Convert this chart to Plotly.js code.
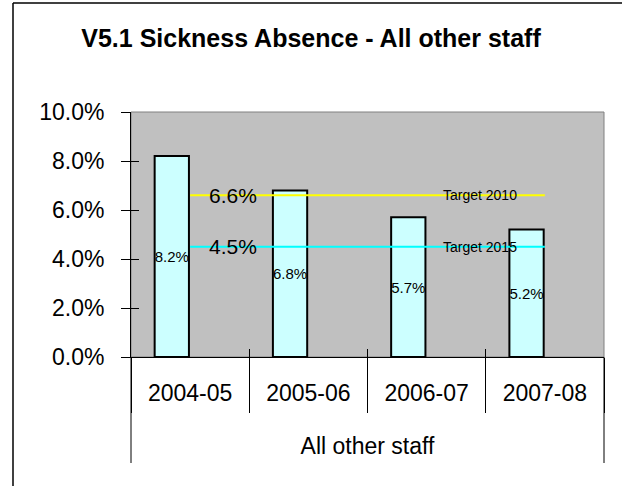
<!DOCTYPE html>
<html>
<head>
<meta charset="utf-8">
<script src="https://cdn.plot.ly/plotly-3.0.1.min.js"></script>
<style>html,body{margin:0;padding:0;background:#fff;}</style>
</head>
<body>
<div id="chart" style="width:622px;height:486px;"></div>
<script>
// ---- data ----
const categories = ["2004-05", "2005-06", "2006-07", "2007-08"];
const groupLabel = "All other staff";
const absenceRate = [8.2, 6.8, 5.7, 5.2];
const target2010 = [6.6, 6.6, 6.6, 6.6];
const target2015 = [4.5, 4.5, 4.5, 4.5];
const targetNames = ["Target 2010", "Target 2015"];
const yTicks = [0, 2, 4, 6, 8, 10];
const yTickLabels = ["0.0%", "2.0%", "4.0%", "6.0%", "8.0%", "10.0%"];
const chartTitle = "V5.1 Sickness Absence - All other staff";

const FONT = 'Arial, "Liberation Sans", sans-serif';

const traces = [
  {
    type: 'bar', x: categories, y: absenceRate, xaxis: 'x', yaxis: 'y',
    offset: -0.3, width: 0.29,
    marker: {color: '#CCFFFF', line: {color: '#000000', width: 2}},
    texttemplate: '%{y:.1f}%', textposition: 'inside', insidetextanchor: 'middle',
    textangle: 0, constraintext: 'none',
    textfont: {family: FONT, size: 15, color: '#000000'},
    hoverinfo: 'skip', showlegend: false
  },
  {
    type: 'scatter', mode: 'lines', x: categories, y: target2010, xaxis: 'x2', yaxis: 'y2',
    line: {color: '#FFFF00', width: 2}, hoverinfo: 'skip', showlegend: false
  },
  {
    type: 'scatter', mode: 'lines', x: categories, y: target2015, xaxis: 'x2', yaxis: 'y2',
    line: {color: '#00FFFF', width: 2}, hoverinfo: 'skip', showlegend: false
  }
];

const annotations = [];
[[target2010, targetNames[0]], [target2015, targetNames[1]]].forEach(([arr, name]) => {
  annotations.push({
    x: categories[0], y: arr[0], xref: 'x', yref: 'y',
    text: arr[0].toFixed(1) + '%', showarrow: false,
    xanchor: 'left', yanchor: 'middle', xshift: 17,
    font: {family: FONT, size: 21, color: '#000000'}
  });
  annotations.push({
    x: 2.45, y: arr[arr.length - 1], xref: 'x', yref: 'y',
    text: name, showarrow: false, xanchor: 'center', yanchor: 'middle',
    font: {family: FONT, size: 14, color: '#000000'}
  });
});

const layout = {
  width: 622, height: 486,
  margin: {l: 131, r: 18, t: 112, b: 129, pad: 0},
  paper_bgcolor: '#FFFFFF', plot_bgcolor: '#C0C0C0',
  showlegend: false,
  title: {
    text: chartTitle, x: 0.5, xref: 'container', xanchor: 'center',
    y: 1 - 38 / 486, yref: 'container', yanchor: 'middle',
    font: {family: FONT, size: 25, weight: 700, color: '#000000'}
  },
  xaxis: {
    type: 'category', range: [-0.5, 3.5], fixedrange: true,
    showline: true, linecolor: '#000000', linewidth: 1,
    ticks: 'inside', tickson: 'boundaries', ticklen: 8, tickcolor: '#000000', tickwidth: 1,
    showgrid: false, zeroline: false,
    tickfont: {family: FONT, size: 23, color: '#000000'},
    ticklabelstandoff: 15,
    title: {text: groupLabel, standoff: 33, font: {family: FONT, size: 23, color: '#000000'}}
  },
  xaxis2: {
    type: 'category', range: [-0.5, 3.5], overlaying: 'x', anchor: 'y', side: 'bottom',
    showline: false, ticks: 'outside', tickson: 'boundaries', ticklen: 55,
    tickcolor: '#000000', tickwidth: 1, showticklabels: false, showgrid: false, zeroline: false
  },
  yaxis: {
    range: [0, 10], tickmode: 'array', tickvals: yTicks, ticktext: yTickLabels,
    showline: true, linecolor: '#000000', linewidth: 1,
    ticks: 'outside', ticklen: 9, tickcolor: '#000000', tickwidth: 1,
    showgrid: false, zeroline: false,
    tickfont: {family: FONT, size: 23, color: '#000000'},
    ticklabelstandoff: 12
  },
  yaxis2: {
    range: [0, 10], overlaying: 'y', anchor: 'x', side: 'left',
    tickmode: 'array', tickvals: yTicks, ticks: 'inside', ticklen: 8, tickcolor: '#000000', tickwidth: 1,
    showticklabels: false, showline: false, showgrid: false, zeroline: false
  },
  annotations: annotations,
  shapes: [
    // plot area border
    {type: 'rect', xref: 'x domain', yref: 'y domain', x0: 0, x1: 1, y0: 0, y1: 1,
     line: {color: '#808080', width: 1}, fillcolor: 'rgba(0,0,0,0)', layer: 'below'},
    // outer category-level divider lines
    {type: 'line', xref: 'x domain', yref: 'y domain', x0: 0, x1: 0, y0: 0, y1: -106 / 245,
     line: {color: '#000000', width: 1}},
    {type: 'line', xref: 'x domain', yref: 'y domain', x0: 1, x1: 1, y0: 0, y1: -106 / 245,
     line: {color: '#000000', width: 1}},
    // chart frame: left and top edges (the rest lies outside the picture)
    {type: 'line', xref: 'paper', yref: 'paper',
     x0: (13 - 131) / 473, x1: (13 - 131) / 473, y0: -129 / 245 - 0.01, y1: 1 + (112 - 3) / 245,
     line: {color: '#000000', width: 1.5}},
    {type: 'line', xref: 'paper', yref: 'paper',
     x0: (13 - 131) / 473, x1: 1 + 25 / 473, y0: 1 + (112 - 3) / 245, y1: 1 + (112 - 3) / 245,
     line: {color: '#000000', width: 1.5}}
  ]
};

Plotly.newPlot('chart', traces, layout, {displayModeBar: false, staticPlot: true});
</script>
</body>
</html>
